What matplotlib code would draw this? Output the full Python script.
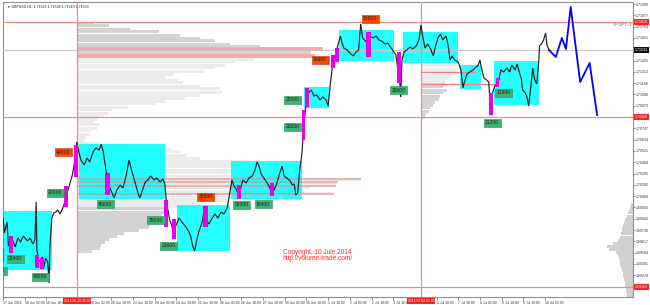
import matplotlib
matplotlib.use("Agg")
import matplotlib.pyplot as plt
from matplotlib.patches import Rectangle

plt.rcParams['font.family'] = ['Liberation Sans', 'DejaVu Sans']

# ---------------- data (x = H1 bars since 17 Jun 2014 10:00, y = GBPUSD price) ----------------
# ("19 Jun 10:00" and "4 Jul 02:00" are hidden under the vertical-line labels in the reference)
time_label_hours = [0, 16, 32, 64, 80, 96, 112, 128, 144, 160, 176, 192,
                    208, 224, 240, 256, 272, 288, 320, 336, 352, 368, 384, 400]
time_labels = ["17 Jun 2014", "18 Jun 02:00", "18 Jun 18:00", "20 Jun 02:00",
               "20 Jun 18:00", "23 Jun 10:00", "24 Jun 02:00", "24 Jun 18:00", "25 Jun 10:00",
               "26 Jun 02:00", "26 Jun 18:00", "27 Jun 10:00", "30 Jun 02:00", "30 Jun 18:00",
               "1 Jul 10:00", "2 Jul 02:00", "2 Jul 18:00", "3 Jul 10:00",
               "4 Jul 18:00", "7 Jul 10:00", "8 Jul 02:00", "8 Jul 18:00", "9 Jul 10:00",
               "10 Jul 02:00"]

path_hour = [0, 1, 3, 4, 7, 9, 11, 13, 15, 18,
             20, 22, 23.5, 24.5, 25, 26.5, 29, 30, 31.5, 33,
             34, 34.5, 36, 37.5, 39, 40.5, 42, 43.5, 45, 46.5,
             48, 49.5, 51, 52.5, 54, 54.5, 56, 57.5, 60, 62,
             64, 66.5, 68.5, 71, 72.5, 74, 76, 78, 80.5, 82,
             84, 86.5, 88.5, 91, 93, 94.5, 96.5, 99, 101, 102.5,
             105, 107, 109, 111.5, 113.5, 116, 118, 119.5, 120.5, 122,
             123, 124.5, 126, 127.5, 130, 132, 134.5, 136.5, 138.5, 140,
             141.5, 143, 144.5, 147, 148.5, 150, 152, 154, 156.5, 158.5,
             161, 163, 165.5, 167.5, 169, 170.5, 172.5, 174, 175.5, 177,
             179.5, 181.5, 184, 186, 187.5, 189, 190.5, 192.5, 195, 197,
             198.5, 200, 202, 204.5, 206, 207.5, 209.5, 212, 213.5, 215,
             216, 217.5, 219, 220.5, 222, 223, 224.5, 226, 227.5, 229.5,
             231.5, 234, 236, 238.5, 240, 241.5, 243, 244.5, 246, 247,
             249, 250, 251.5, 254, 256, 258.5, 260.5, 262.5, 264, 265.5,
             268, 269.5, 271, 273, 275.5, 277.5, 279.5, 282, 284, 286.5,
             288.5, 290, 291.5, 293, 293.5, 294.5, 296, 298, 300.5, 302.5,
             305, 307, 308.5, 310, 311.5, 313.5, 316, 317.5, 319.5, 321,
             323, 324.5, 327, 328.5, 330, 331.5, 333.5, 336, 338, 339.5,
             341, 342.5, 344.5, 347, 349, 350.5, 352, 353.5, 355, 357,
             358.5, 360, 361.5, 363, 364.5, 366, 367.5, 369.5, 372, 374,
             375.5, 378, 379.5, 381, 382.5, 383.5, 385, 386.5, 388, 389.5,
             391, 392.5, 394, 395.5, 396, 397.5, 399, 400.5, 401.5, 403]
path_price = [1.6985, 1.6970, 1.6981, 1.6957, 1.6963, 1.6956, 1.6965, 1.6961, 1.6967, 1.6962,
              1.6965, 1.6959, 1.6963, 1.7001, 1.6953, 1.6941, 1.6946, 1.6935, 1.6945, 1.6941,
              1.6920, 1.6953, 1.6985, 1.6990, 1.6991, 1.6993, 1.6989, 1.6993, 1.6998, 1.7007,
              1.7013, 1.7020, 1.7027, 1.7038, 1.7053, 1.7061, 1.7051, 1.7043, 1.7038, 1.7045,
              1.7041, 1.7051, 1.7055, 1.7053, 1.7059, 1.7051, 1.7033, 1.7018, 1.7010, 1.7005,
              1.7013, 1.7018, 1.7015, 1.7028, 1.7043, 1.7035, 1.7025, 1.7013, 1.7005, 1.7011,
              1.7021, 1.7023, 1.7027, 1.7023, 1.7025, 1.7021, 1.7024, 1.7019, 1.7003, 1.6991,
              1.6983, 1.6978, 1.6967, 1.6977, 1.6985, 1.6981, 1.6977, 1.6973, 1.6967, 1.6957,
              1.6952, 1.6963, 1.6971, 1.6981, 1.6993, 1.6983, 1.6979, 1.6984, 1.6989, 1.6985,
              1.6991, 1.6989, 1.6995, 1.7011, 1.7023, 1.7017, 1.7013, 1.7006, 1.7015, 1.7023,
              1.7020, 1.7025, 1.7027, 1.7033, 1.7041, 1.7037, 1.7029, 1.7025, 1.7020, 1.7015,
              1.7009, 1.7013, 1.7019, 1.7031, 1.7037, 1.7027, 1.7025, 1.7022, 1.7018, 1.7019,
              1.7008, 1.7010, 1.7033, 1.7048, 1.7073, 1.7091, 1.7108, 1.7111, 1.7113, 1.7107,
              1.7108, 1.7103, 1.7106, 1.7103, 1.7097, 1.7118, 1.7135, 1.7145, 1.7151, 1.7157,
              1.7167, 1.7161, 1.7155, 1.7153, 1.7150, 1.7147, 1.7151, 1.7153, 1.7179, 1.7165,
              1.7161, 1.7169, 1.7167, 1.7165, 1.7167, 1.7163, 1.7162, 1.7159, 1.7160, 1.7155,
              1.7151, 1.7148, 1.7133, 1.7118, 1.7106, 1.7143, 1.7151, 1.7153, 1.7156, 1.7154,
              1.7157, 1.7163, 1.7178, 1.7165, 1.7155, 1.7159, 1.7153, 1.7147, 1.7158, 1.7165,
              1.7169, 1.7163, 1.7167, 1.7158, 1.7143, 1.7147, 1.7143, 1.7141, 1.7133, 1.7115,
              1.7123, 1.7129, 1.7131, 1.7133, 1.7136, 1.7137, 1.7143, 1.7133, 1.7125, 1.7123,
              1.7121, 1.7091, 1.7111, 1.7117, 1.7119, 1.7123, 1.7133, 1.7131, 1.7135, 1.7131,
              1.7138, 1.7133, 1.7139, 1.7131, 1.7125, 1.7113, 1.7111, 1.7107, 1.7097, 1.7115,
              1.7135, 1.7123, 1.7119, 1.7143, 1.7157, 1.7159, 1.7163, 1.7170, 1.7158, 1.7153]

proj_hour = [403, 408, 412.5, 415.5, 419, 426, 433, 438.5]
proj_price = [1.7153, 1.7146, 1.7165, 1.7154, 1.7196, 1.7121, 1.7140, 1.7088]

# high-volume (magenta) candles
mag_start = [-1.5, 4.5, 23.5, 27.5, 45, 52.5, 75.5, 119, 124.5, 147.5, 172.5, 197, 220.5, 223,
             242, 245, 268, 291, 358.5, 364]
mag_end = [0.5, 7.5, 26.5, 30, 48, 55.5, 79, 122, 127.5, 151.5, 175.5, 200, 223, 226,
           245, 248, 271.5, 293.5, 361.5, 366]
mag_high = [1.6955, 1.6967, 1.6948, 1.6945, 1.7017, 1.7058, 1.7030, 1.7003, 1.6984, 1.6997,
            1.7018, 1.7020, 1.7093, 1.7115, 1.7148, 1.7155, 1.7171, 1.7151, 1.7110, 1.7125]
mag_low = [1.6941, 1.6950, 1.6935, 1.6934, 1.6996, 1.7026, 1.7008, 1.6976, 1.6964, 1.6976,
           1.7004, 1.7007, 1.7063, 1.7096, 1.7135, 1.7141, 1.7146, 1.7120, 1.7088, 1.7116]

# consolidation zones (cyan)
box_start = [-3, 56, 128.5, 168, 222, 248, 295, 337, 362.5]
box_end = [36, 119.5, 167.5, 220.5, 240.5, 288.5, 336, 353, 395.5]
box_high = [1.6992, 1.7059, 1.6998, 1.7042, 1.7116, 1.7173, 1.7171, 1.7138, 1.7142]
box_low = [1.6933, 1.7004, 1.6952, 1.7004, 1.7095, 1.7142, 1.7140, 1.7114, 1.7098]

# volume tags
tag_hour = [9, -3.5, 27.5, 38.5, 44.5, 75.5, 113, 122, 149.5, 176, 192, 214, 214, 234, 271,
            292, 361, 369.5]
tag_price = [1.69445, 1.69325, 1.69265, 1.7010, 1.7051, 1.6999, 1.6983, 1.69575, 1.7006,
             1.6998, 1.6999, 1.70765, 1.71035, 1.71435, 1.71845, 1.7113, 1.7080, 1.7110]
tag_text = ["23400", "23000", "43000", "20000", "44000", "45000", "39000", "21600", "39500",
            "32000", "18400", "23000", "22000", "31600", "30800", "32600", "21200", "12900"]
tag_kind = ["g", "g", "g", "g", "r", "g", "g", "g", "r", "g", "g", "g", "g", "r", "r", "g",
            "g", "g"]

# volume profile 1 (anchored at first vertical line)
prof1_top = 1.7180
prof1_step = 0.0003
prof1_volume = [13, 24, 39, 61, 76, 91, 102, 113, 135, 165,
                173, 157, 131, 117, 109, 102, 94, 72, 66, 75,
                78, 91, 106, 108, 91, 80, 65, 58, 38, 26,
                23, 20, 15, 13, 17, 15, 11, 10, 7, 5,
                17, 39, 69, 76, 81, 91, 128, 117, 114, 142,
                139, 165, 210, 193, 191, 172, 165, 190, 128, 113,
                91, 76, 67, 66, 63, 61, 60, 54, 53, 46,
                35, 30, 24, 21, 18, 17, 11]
prof1_va_high = 1.7146
prof1_va_low = 1.6996
prof1_poc_price = [1.7154, 1.7147, 1.7024, 1.7021, 1.7017, 1.7009]
prof1_poc_volume = [182, 176, 210, 193, 191, 190]

# volume profile 2 (anchored at second vertical line)
prof2_top = 1.7140
prof2_step = 0.0003
prof2_volume = [27, 27, 27, 27, 22, 21, 18, 18, 16, 19, 16, 14, 13, 10, 9, 7, 6, 4, 3]
prof2_va_low = 1.7119
prof2_poc_price = [1.7131, 1.7119]
prof2_poc_volume = [39, 54]

# volume profile 3 (right edge)
prof3_top = 1.6999
prof3_step = 0.0003
prof3_volume = [1.5, 2, 3, 4, 4.5, 6, 6.5, 7.5, 8, 8, 9, 9.5, 11, 15, 19, 18, 12.5, 11, 10,
                9.5, 9.5, 9, 8, 7.5, 7.5, 6.5, 6, 6, 5, 5, 4.5, 4.5]

levels_red = [1.7181, 1.7086, 1.6916]
current_price = 1.7153
vline_hours = [54.5, 308.5]
vline_labels = ["2014.06.19 16:00", "2014.07.04 07:00"]
price_tick_top = 1.7199
price_tick_step = 0.00113
title = "\u25bc GBPUSD,H1  1.71525 1.71548 1.71510 1.71533"

# ---------------- figure ----------------
W, H = 650, 305
fig = plt.figure(figsize=(W / 100, H / 100), dpi=100)
ax = fig.add_axes([3 / W, 8 / H, 630 / W, 295 / H])
ax.set_xlim(0, 465)
ax.set_ylim(1.6906, 1.7201)

DARK = '#d3d3d3'
LIGHT = '#ececec'

# profile 1
n1 = len(prof1_volume)
lv1 = [prof1_top - i * prof1_step for i in range(n1)]
col1 = [DARK if (p > prof1_va_high or p < prof1_va_low) else LIGHT for p in lv1]
ax.barh(lv1, prof1_volume, left=vline_hours[0], height=prof1_step, color=col1,
        linewidth=0, zorder=1)
# profile 2
n2 = len(prof2_volume)
lv2 = [prof2_top - i * prof2_step for i in range(n2)]
col2 = [LIGHT if p > prof2_va_low else DARK for p in lv2]
ax.barh(lv2, prof2_volume, left=vline_hours[1], height=prof2_step, color=col2,
        linewidth=0, zorder=1)
# profile 3 (anchored on right)
n3 = len(prof3_volume)
lv3 = [prof3_top - i * prof3_step for i in range(n3)]
ax.barh(lv3, prof3_volume, left=[465 - v for v in prof3_volume], height=prof3_step,
        color='#d0d0d0', linewidth=0, zorder=1)

# pink POC bands of profile 1 (upper two wide, rest thin)
for i, (p, v) in enumerate(zip(prof1_poc_price, prof1_poc_volume)):
    if i < 2:
        ax.barh(p, v, left=vline_hours[0], height=0.00035, color='#f6a9a9', linewidth=0,
                zorder=1.5)
    else:
        ax.barh(p, v, left=vline_hours[0], height=0.00016, color='#f08080', alpha=0.55,
                linewidth=0, zorder=3)

# cyan zones
for x0, x1, hi, lo in zip(box_start, box_end, box_high, box_low):
    ax.add_patch(Rectangle((x0, lo), x1 - x0, hi - lo, facecolor='#00ffff', alpha=0.85,
                           edgecolor='none', zorder=2))

for p, v in zip(prof2_poc_price, prof2_poc_volume):
    ax.plot([vline_hours[1], vline_hours[1] + v], [p, p], color='#f08080', lw=0.9, zorder=3)

# full-width lines
for p in levels_red:
    ax.axhline(p, color='#f28a8a', lw=0.9, zorder=3)
ax.axhline(current_price, color='#c8c8c8', lw=0.8, zorder=3)
for h in vline_hours:
    ax.axvline(h, color='#f28a8a', lw=0.9, zorder=3)

# price path
n = min(len(path_hour), len(path_price))
ax.plot(path_hour[:n], path_price[:n], color='#202020', lw=0.85, zorder=4,
        solid_joinstyle='miter')
ax.plot(proj_hour, proj_price, color='#0000ff', lw=1.3, zorder=4)

# magenta candles
for x0, x1, hi, lo in zip(mag_start, mag_end, mag_high, mag_low):
    ax.add_patch(Rectangle((x0, lo), x1 - x0, hi - lo, facecolor='#e800e8',
                           edgecolor='none', zorder=5))

# volume tags
for h, p, t, k in zip(tag_hour, tag_price, tag_text, tag_kind):
    fc, ec = ('#3cb371', '#2e8b57') if k == 'g' else ('#ff4500', '#d03000')
    ax.text(h, p, t, ha='center', va='center', fontsize=3.6, color='#102810',
            bbox=dict(boxstyle='square,pad=0.3', fc=fc, ec=ec, lw=0.4), zorder=6,
            clip_on=True)

# copyright
ax.text(206.5, 1.6951, "Copyright, 10 Jule 2014", fontsize=4.7, color='#ff2a2a',
        ha='left', va='center', zorder=6)
ax.text(206.5, 1.6944, "http://volume-trade.com/", fontsize=4.7, color='#ff2a2a',
        ha='left', va='center', zorder=6)

ax.text(0.006, 0.993, title, transform=ax.transAxes, fontsize=2.5, ha='left', va='top',
        color='#202020', zorder=6)
ax.text(464, 1.7178, "VP GIFT +2", fontsize=2.5, ha='right', va='center', color='#606060',
        zorder=6)

# axes styling
for s in ax.spines.values():
    s.set_color('#909090')
    s.set_linewidth(0.8)
ax.set_xticks(time_label_hours)
ax.set_xticklabels(time_labels, fontsize=2.4, ha='left')
ax.tick_params(axis='x', length=2, width=0.4, pad=0.8, colors='#303030')
ax.yaxis.tick_right()
yt = [price_tick_top - k * price_tick_step for k in range(27)]
ax.set_yticks(yt)
ax.set_yticklabels(["%.5f" % v for v in yt], fontsize=2.6)
ax.tick_params(axis='y', length=1.5, width=0.4, pad=0.8, colors='#303030')
ax.set_ylim(1.6906, 1.7201)

ytr = ax.get_yaxis_transform()
for p in levels_red:
    ax.text(1.003, p, "%.5f" % p, transform=ytr, fontsize=2.6, color='white', ha='left',
            va='center', bbox=dict(boxstyle='square,pad=0.2', fc='#ff2020', ec='none'),
            clip_on=False, zorder=7)
ax.text(1.003, current_price, "%.5f" % (current_price + 0.00003), transform=ytr, fontsize=2.6,
        color='white', ha='left', va='center',
        bbox=dict(boxstyle='square,pad=0.2', fc='#101010', ec='none'), clip_on=False, zorder=7)

xtr = ax.get_xaxis_transform()
for h, t in zip(vline_hours, vline_labels):
    ax.text(h, -0.008, t, transform=xtr, fontsize=2.4, color='white', ha='center', va='top',
            bbox=dict(boxstyle='square,pad=0.3', fc='#ff2020', ec='none'), clip_on=False,
            zorder=7)

fig.savefig("out.png", dpi=100)
